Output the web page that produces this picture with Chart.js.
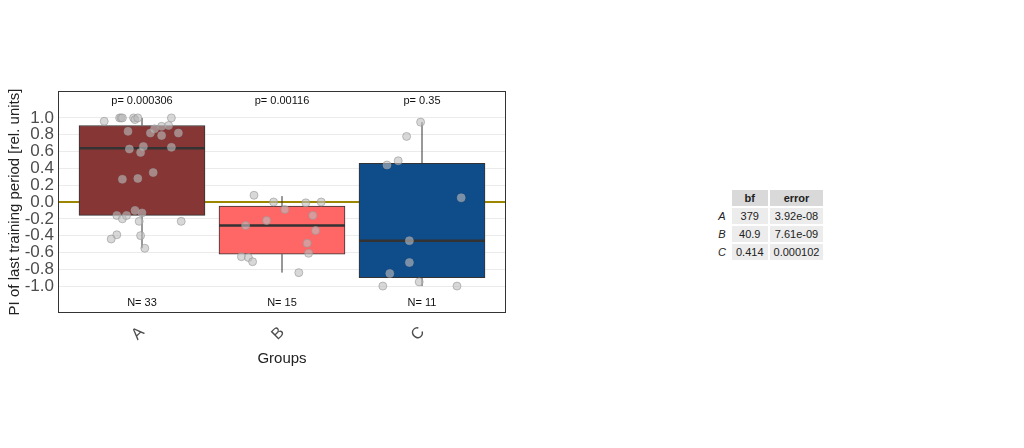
<!DOCTYPE html>
<html><head><meta charset="utf-8">
<script src="https://cdn.jsdelivr.net/npm/chart.js@4"></script>
<style>
body{margin:0;background:#fff;font-family:Arial,"Liberation Sans",sans-serif;}
#wrap{position:absolute;left:0;top:0;width:520px;height:448px;}
table{position:absolute;left:712px;top:188px;border-collapse:separate;border-spacing:2px;font-size:11px;color:#222;}
th{background:#d9d9d9;font-weight:bold;padding:2px 8px;}
td{background:#ececec;padding:2px 4px;text-align:center;}
td.r{background:#fff;font-style:italic;padding:2px 2px;}
</style></head><body>
<div id="wrap"><canvas id="c" width="520" height="448"></canvas></div>
<table>
<tr><th style="background:#fff"></th><th>bf</th><th>error</th></tr>
<tr><td class="r">A</td><td>379</td><td>3.92e-08</td></tr>
<tr><td class="r">B</td><td>40.9</td><td>7.61e-09</td></tr>
<tr><td class="r">C</td><td>0.414</td><td>0.000102</td></tr>
</table>
<script>
const grupos = ['A', 'B', 'C'];
const colores = ['#873636', '#ff6666', '#0f4c8a'];
const q1 = [-0.16, -0.62, -0.90];
const mediana = [0.64, -0.28, -0.46];
const q3 = [0.91, -0.05, 0.46];
const bigoteMin = [-0.55, -0.84, -1.0];
const bigoteMax = [1.0, 0.07, 0.95];
const pValores = ['p= 0.000306', 'p= 0.00116', 'p= 0.35'];
const nTextos = ['N= 33', 'N= 15', 'N= 11'];
const yTicks = [-1.0, -0.8, -0.6, -0.4, -0.2, 0.0, 0.2, 0.4, 0.6, 0.8, 1.0];

const puntosA = [[0.73,0.96],[0.84,1.0],[0.85,1.0],[0.86,1.0],[0.94,1.0],[0.95,0.98],[0.97,1.0],[1.21,1.0],[0.90,0.84],[1.14,0.9],[1.19,0.91],[1.09,0.87],[1.06,0.82],[1.26,0.82],[1.14,0.79],[0.91,0.63],[1.01,0.66],[0.99,0.59],[1.21,0.65],[1.08,0.35],[0.86,0.27],[0.97,0.28],[0.95,-0.1],[1.0,-0.13],[0.82,-0.16],[0.86,-0.2],[0.89,-0.16],[0.98,-0.23],[1.28,-0.23],[0.82,-0.39],[0.78,-0.44],[0.99,-0.4],[1.02,-0.55]];
const puntosB = [[1.80,0.08],[1.94,0.0],[2.17,-0.01],[2.28,0.0],[2.02,-0.09],[2.22,-0.16],[1.89,-0.22],[1.74,-0.28],[2.24,-0.34],[2.18,-0.49],[2.19,-0.61],[1.71,-0.65],[1.76,-0.66],[1.79,-0.71],[2.12,-0.84]];
const puntosC = [[2.99,0.95],[2.89,0.78],[2.83,0.49],[2.75,0.44],[3.28,0.05],[2.91,-0.46],[2.91,-0.72],[2.77,-0.85],[2.98,-0.95],[2.72,-1.0],[3.25,-1.0]];

const aXY = arr => arr.map(p => ({x: p[0], y: p[1]}));

const extras = {
    id: 'extras',
    beforeDatasetsDraw(chart) {
        const {ctx, scales: {x, y}, chartArea} = chart;
        ctx.save();
        // linea del cero
        ctx.strokeStyle = '#9c8600';
        ctx.lineWidth = 2;
        ctx.beginPath();
        ctx.moveTo(chartArea.left, y.getPixelForValue(0));
        ctx.lineTo(chartArea.right, y.getPixelForValue(0));
        ctx.stroke();
        // bigotes
        ctx.strokeStyle = '#333';
        ctx.lineWidth = 1;
        grupos.forEach((g, i) => {
            const px = x.getPixelForValue(i + 1);
            ctx.beginPath();
            ctx.moveTo(px, y.getPixelForValue(bigoteMax[i]));
            ctx.lineTo(px, y.getPixelForValue(q3[i]));
            ctx.moveTo(px, y.getPixelForValue(q1[i]));
            ctx.lineTo(px, y.getPixelForValue(bigoteMin[i]));
            ctx.stroke();
        });
        ctx.restore();
    },
    afterDatasetDraw(chart, args) {
        if (args.index !== 0) return;
        const {ctx, scales: {x, y}} = chart;
        ctx.save();
        ctx.strokeStyle = '#333';
        ctx.lineWidth = 2.5;
        grupos.forEach((g, i) => {
            const x0 = x.getPixelForValue(i + 0.55);
            const x1 = x.getPixelForValue(i + 1.45);
            ctx.beginPath();
            ctx.moveTo(x0, y.getPixelForValue(mediana[i]));
            ctx.lineTo(x1, y.getPixelForValue(mediana[i]));
            ctx.stroke();
        });
        ctx.restore();
    },
    afterDraw(chart) {
        const {ctx, scales: {x, y}, chartArea} = chart;
        ctx.save();
        ctx.fillStyle = '#111';
        ctx.font = '11px Arial';
        ctx.textAlign = 'center';
        ctx.textBaseline = 'middle';
        grupos.forEach((g, i) => {
            const px = x.getPixelForValue(i + 1);
            ctx.fillText(pValores[i], px, y.getPixelForValue(1.2));
            ctx.fillText(nTextos[i], px, y.getPixelForValue(-1.2));
        });
        ctx.strokeStyle = '#333';
        ctx.lineWidth = 1;
        ctx.strokeRect(chartArea.left + 0.5, chartArea.top + 0.5, chartArea.width - 1, chartArea.height - 1);
        ctx.restore();
    }
};

new Chart(document.getElementById('c'), {
    data: {
        datasets: [{
            type: 'bar',
            data: grupos.map((g, i) => ({x: i + 1, y: [q1[i], q3[i]]})),
            backgroundColor: colores,
            borderColor: '#333',
            borderWidth: 1,
            borderSkipped: false,
            barThickness: 126,
            order: 2
        }, {
            type: 'scatter',
            data: aXY(puntosA).concat(aXY(puntosB), aXY(puntosC)),
            backgroundColor: 'rgba(190,190,190,0.6)',
            borderColor: 'rgba(150,150,150,0.6)',
            borderWidth: 1,
            pointRadius: 4,
            order: 1
        }]
    },
    options: {
        responsive: false,
        animation: false,
        layout: {padding: {top: 91, right: 14, bottom: 76, left: 6}},
        plugins: {legend: {display: false}, tooltip: {enabled: false}},
        scales: {
            x: {
                type: 'linear', min: 0.4, max: 3.6, offset: false,
                afterBuildTicks: s => { s.ticks = grupos.map((g, i) => ({value: i + 1})); },
                afterFit: s => { s.height = 59; },
                ticks: {
                    callback: v => grupos[v - 1],
                    color: '#4d4d4d', font: {size: 16}, maxRotation: 45, minRotation: 45, autoSkip: false, padding: 6
                },
                grid: {display: false, drawTicks: true, tickLength: 4, tickColor: '#333'},
                border: {display: false},
                title: {display: true, text: 'Groups', color: '#222', font: {size: 15}, padding: {top: 0}}
            },
            y: {
                min: -1.32, max: 1.32,
                afterBuildTicks: s => { s.ticks = yTicks.map(v => ({value: v})); },
                afterFit: s => { s.width = 52; },
                ticks: {callback: v => v.toFixed(1), color: '#4d4d4d', font: {size: 17}, padding: 4, autoSkip: false},
                grid: {color: '#ebebeb', drawTicks: false},
                border: {display: false},
                title: {display: true, text: 'PI of last training period [rel. units]', color: '#222', font: {size: 15}, padding: 0}
            }
        }
    },
    plugins: [extras]
});
</script>
</body></html>
